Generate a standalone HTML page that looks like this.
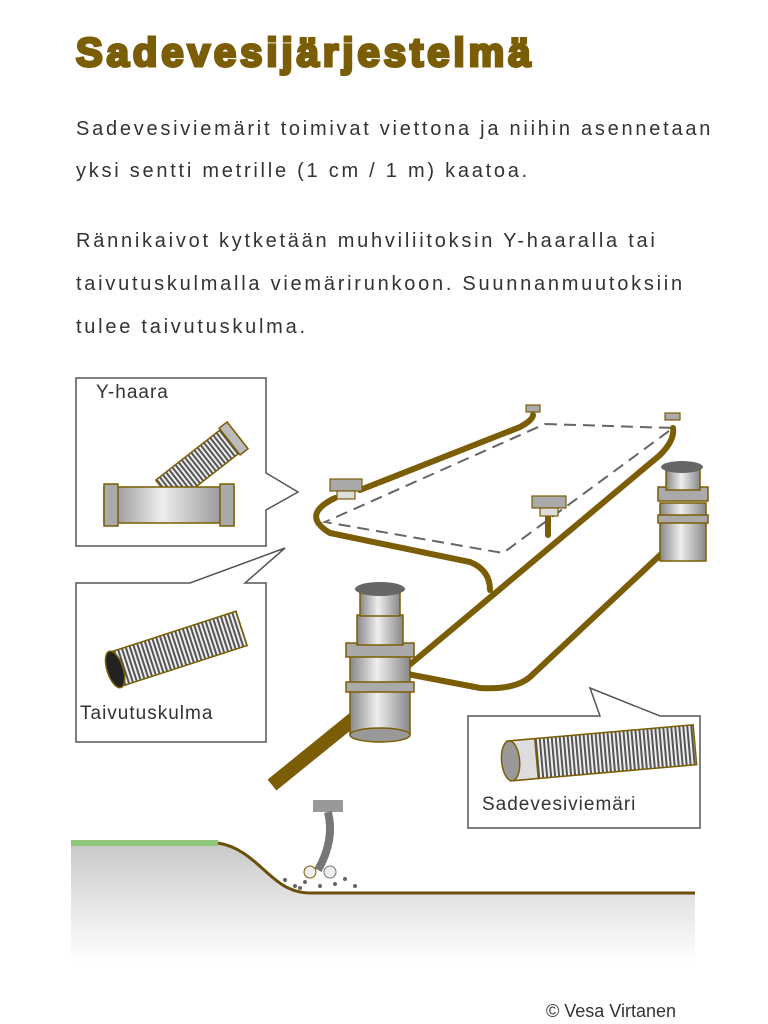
<!DOCTYPE html>
<html><head><meta charset="utf-8"><style>
html,body{margin:0;padding:0;background:#fff;}
body{width:768px;height:1024px;position:relative;overflow:hidden;font-family:"Liberation Sans",sans-serif;}
.t{position:absolute;left:76px;font-size:40px;font-weight:900;color:#7a5d05;top:31px;letter-spacing:4px;-webkit-text-stroke:3px #7a5d05;font-family:"Liberation Sans",sans-serif;}
.p{position:absolute;left:76px;font-size:20px;color:#333;letter-spacing:2.75px;white-space:nowrap;}
</style></head><body>
<div class="t">Sadevesijärjestelmä</div>
<div class="p" style="top:118px">Sadevesiviemärit toimivat viettona ja niihin asennetaan</div>
<div class="p" style="top:160px">yksi sentti metrille (1 cm / 1 m) kaatoa.</div>
<div class="p" style="top:230px">Rännikaivot kytketään muhviliitoksin Y-haaralla tai</div>
<div class="p" style="top:273px">taivutuskulmalla viemärirunkoon. Suunnanmuutoksiin</div>
<div class="p" style="top:316px">tulee taivutuskulma.</div>
<svg width="768" height="1024" style="position:absolute;left:0;top:0">
<defs>
<linearGradient id="g" x1="0" y1="0" x2="0" y2="1"><stop offset="0" stop-color="#c8c8c8"/><stop offset="0.5" stop-color="#e6e6e6"/><stop offset="1" stop-color="#fff"/></linearGradient>
<linearGradient id="m" x1="0" y1="0" x2="1" y2="0"><stop offset="0" stop-color="#888"/><stop offset="0.45" stop-color="#eee"/><stop offset="1" stop-color="#888"/></linearGradient>
<pattern id="cr" width="4" height="10" patternUnits="userSpaceOnUse"><rect width="4" height="10" fill="#eee"/><rect width="2" height="10" fill="#555"/></pattern>
</defs>
<path d="M71,843 L218,843 C260,850 270,893 310,893 L695,893 L695,965 L71,965 Z" fill="url(#g)"/>
<line x1="71" y1="843" x2="218" y2="843" stroke="#8ec77a" stroke-width="6"/>
<path d="M218,843 C260,850 270,893 310,893 L695,893" fill="none" stroke="#6b4f0a" stroke-width="3"/>
<path d="M76,378 H266 V473 L298,492 L266,510 V546 H76 Z" fill="#fff" stroke="#555" stroke-width="1.5"/>
<path d="M76,583 H190 L285,548 L245,583 H266 V742 H76 Z" fill="#fff" stroke="#555" stroke-width="1.5"/>
<path d="M468,716 H600 L590,688 L660,716 H700 V828 H468 Z" fill="#fff" stroke="#555" stroke-width="1.5"/>
<text x="96" y="398" font-size="19" fill="#333" letter-spacing="1">Y-haara</text>
<text x="80" y="719" font-size="19" fill="#333" letter-spacing="1">Taivutuskulma</text>
<text x="482" y="810" font-size="19" fill="#333" letter-spacing="1">Sadevesiviemäri</text>
<g stroke="#7a5d05" stroke-width="1.5">
<g transform="translate(165,492) rotate(-38)"><rect x="0" y="-15" width="92" height="30" fill="url(#cr)"/><rect x="82" y="-17" width="10" height="34" fill="#bbb"/></g>
<rect x="104" y="487" width="130" height="36" fill="url(#m)"/>
<rect x="104" y="484" width="14" height="42" fill="#aaa"/>
<rect x="220" y="484" width="14" height="42" fill="#aaa"/>
</g>
<g stroke="#7a5d05" stroke-width="1.5" transform="rotate(-18 175 650)">
<rect x="110" y="632" width="135" height="36" fill="url(#cr)"/>
<ellipse cx="112" cy="650" rx="8" ry="19" fill="#222"/>
</g>
<g stroke="#7a5d05" stroke-width="1.5" transform="rotate(-5 600 750)">
<rect x="515" y="733" width="180" height="40" fill="url(#cr)"/>
<rect x="508" y="733" width="28" height="40" fill="#ddd"/>
<ellipse cx="510" cy="753" rx="9" ry="20" fill="#999"/>
</g>
<path d="M545,424 L673,428 L503,553 L325,522 Z" fill="none" stroke="#666" stroke-width="2" stroke-dasharray="12,7"/>
<g fill="none" stroke="#7a5d05" stroke-width="6" stroke-linecap="round">
<path d="M533,415 Q533,420 520,427 L360,490"/>
<path d="M335,498 Q300,515 330,533 L470,562 Q490,570 490,590"/>
<path d="M673,428 Q675,440 660,455 L407,667"/>
<path d="M548,510 L548,535"/>
<path d="M673,543 L530,677 Q515,690 480,688 L402,673"/>
</g>
<line x1="272" y1="785" x2="367" y2="708" stroke="#7a5d05" stroke-width="14"/>
<g stroke="#7a5d05" stroke-width="1.2" fill="#aaa">
<rect x="526" y="405" width="14" height="7"/><rect x="665" y="413" width="15" height="7"/>
<rect x="330" y="479" width="32" height="12"/><rect x="337" y="491" width="18" height="8" fill="#ddd"/>
<rect x="532" y="496" width="34" height="12"/><rect x="540" y="508" width="18" height="8" fill="#ddd"/>
</g>
<g stroke="#7a5d05" stroke-width="1.5">
<rect x="350" y="650" width="60" height="85" fill="url(#m)"/>
<ellipse cx="380" cy="735" rx="30" ry="7" fill="#999"/>
<rect x="346" y="682" width="68" height="10" fill="#aaa"/>
<rect x="346" y="643" width="68" height="14" fill="#aaa"/>
<rect x="357" y="615" width="46" height="30" fill="url(#m)"/>
<rect x="360" y="590" width="40" height="26" fill="url(#m)"/>
<ellipse cx="380" cy="589" rx="25" ry="7" fill="#666" stroke="none"/>
</g>
<g stroke="#7a5d05" stroke-width="1.5">
<rect x="660" y="503" width="46" height="58" fill="url(#m)"/>
<rect x="658" y="515" width="50" height="8" fill="#aaa"/>
<rect x="658" y="487" width="50" height="14" fill="#aaa"/>
<rect x="666" y="468" width="34" height="22" fill="url(#m)"/>
<ellipse cx="682" cy="467" rx="21" ry="6" fill="#666" stroke="none"/>
</g>
<rect x="313" y="800" width="30" height="12" fill="#999"/>
<path d="M328,812 Q335,840 318,870" fill="none" stroke="#777" stroke-width="8"/>
<circle cx="310" cy="872" r="6" fill="#eee" stroke="#7a5d05"/>
<circle cx="330" cy="872" r="6" fill="#eee" stroke="#777"/>
<g fill="#666"><circle cx="285" cy="880" r="2"/><circle cx="295" cy="886" r="2"/><circle cx="305" cy="882" r="2"/><circle cx="320" cy="886" r="2"/><circle cx="335" cy="884" r="2"/><circle cx="345" cy="879" r="2"/><circle cx="355" cy="886" r="2"/><circle cx="300" cy="888" r="2"/></g>
<text x="546" y="1017" font-size="18" fill="#333">© Vesa Virtanen</text>
</svg>
</body></html>
